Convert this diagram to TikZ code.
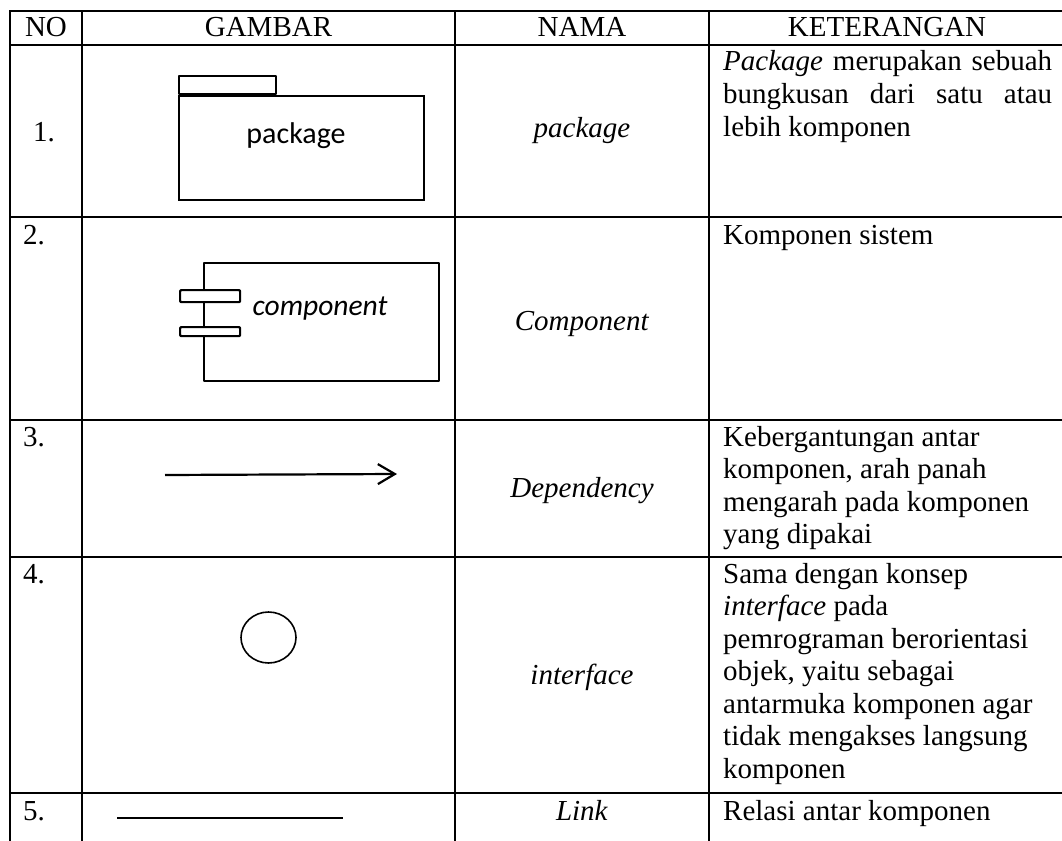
\documentclass[tikz,border=0pt]{standalone}
\usepackage{fontspec}
\setmainfont{Liberation Serif}
\newfontfamily\diagfont{Carlito}
\usetikzlibrary{arrows.meta,shapes.geometric}
\begin{document}
\begin{tikzpicture}[x=1pt,y=-1pt,
  rule/.style={line width=2.5pt,line cap=rect},
  body/.style={inner sep=0pt,font=\fontsize{29}{32.5}\selectfont},
  lt/.style={body,anchor=base west},
  ct/.style={body,anchor=base},
  sym/.style={line width=2.2pt,line join=round},
  symthin/.style={line width=1.6pt},
  lbl/.style={inner sep=0pt,anchor=base,font=\diagfont\fontsize{30}{32}\selectfont},
  boxnode/.style={draw,inner sep=0pt,anchor=north west}]
\useasboundingbox (0,0) rectangle (1062,840);
\fill[white] (0,0) rectangle (1062,840);
% table rules
\foreach \y in {11,45,217,420,557,793} \draw[rule] (10,\y) -- (1063,\y);
\foreach \x in {10,82,455,709} \draw[rule] (\x,11) -- (\x,841);
% header
\node[ct] (hno) at (46,37) {NO};
\node[ct] (hgb) at (268.5,37) {GAMBAR};
\node[ct] (hnm) at (582,37) {NAMA};
\node[ct] (hkt) at (887,37) {KETERANGAN};
% numbers
\node[ct] (no1) at (44,141) {1.};
\node[lt] (no2) at (23,244) {2.};
\node[lt] (no3) at (23,446) {3.};
\node[lt] (no4) at (23,583) {4.};
\node[lt] (no5) at (23,820) {5.};
% names
\node[ct] (nm1) at (582,137) {\textit{package}};
\node[ct] (nm2) at (582,330) {\textit{Component}};
\node[ct] (nm3) at (582,497) {\textit{Dependency}};
\node[ct] (nm4) at (582,684) {\textit{interface}};
\node[ct] (nm5) at (582,820) {\textit{Link}};
% keterangan
\node[lt] (k1a) at (723,71) {\makebox[329pt][s]{\textit{Package} merupakan sebuah}};
\node[lt] (k1b) at (723,103.5) {\makebox[329pt][s]{bungkusan dari satu atau}};
\node[lt] (k1c) at (723,136) {lebih komponen};
\node[lt] (k2a) at (723,244) {Komponen sistem};
\node[lt] (k3a) at (723,446) {Kebergantungan antar};
\node[lt] (k3b) at (723,478.5) {komponen, arah panah};
\node[lt] (k3c) at (723,511) {mengarah pada komponen};
\node[lt] (k3d) at (723,543.5) {yang dipakai};
\node[lt] (k4a) at (723,583) {Sama dengan konsep};
\node[lt] (k4b) at (723,615.5) {\textit{interface} pada};
\node[lt] (k4c) at (723,648) {pemrograman berorientasi};
\node[lt] (k4d) at (723,680.5) {objek, yaitu sebagai};
\node[lt] (k4e) at (723,713) {antarmuka komponen agar};
\node[lt] (k4f) at (723,745.5) {tidak mengakses langsung};
\node[lt] (k4g) at (723,778) {komponen};
\node[lt] (k5a) at (723,820) {Relasi antar komponen};
% package symbol
\node[boxnode,symthin,minimum width=245pt,minimum height=104pt] (pkg) at (178,95) {};
\node[draw,sym,inner sep=0pt,anchor=south west,minimum width=97pt,minimum height=18pt] (pkgtab) at (pkg.north west) {};
\node[lbl] (pkglbl) at (296,143) {package};
% component symbol
\node[boxnode,sym,minimum width=235pt,minimum height=118pt] (comp) at (203,262) {};
\node[boxnode,sym,fill=white,rounded corners=1pt,minimum width=60pt,minimum height=12pt] (bar1) at (179,289) {};
\node[boxnode,sym,fill=white,rounded corners=1pt,minimum width=60pt,minimum height=9pt] (bar2) at (179,326) {};
\node[lbl,font=\diagfont\itshape\fontsize{29.5}{32}\selectfont] (complbl) at (320,315) {component};
% dependency arrow
\coordinate (depa) at (165,475);
\coordinate (depb) at (397,474);
\draw[sym,-{Straight Barb[length=17pt,width=20pt]}] (depa) -- (depb);
% interface
\node[draw,symthin,ellipse,inner sep=0pt,minimum width=55pt,minimum height=51pt] (iface) at (268.5,637.5) {};
% link
\coordinate (linka) at (117,818);
\coordinate (linkb) at (343,818);
\draw[symthin] (linka) -- (linkb);
\end{tikzpicture}
\end{document}
